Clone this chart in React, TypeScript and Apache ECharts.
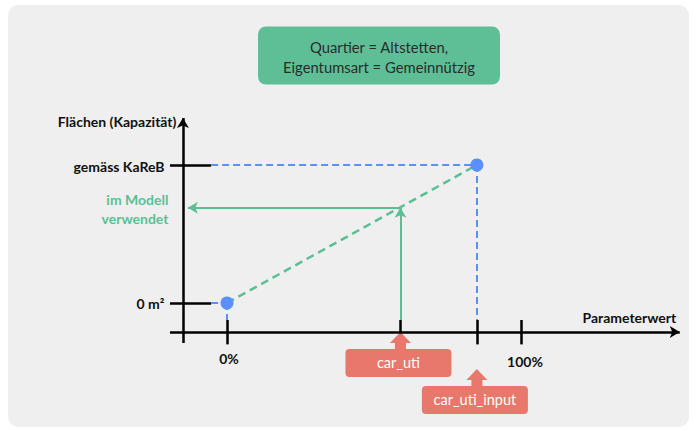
import React, { useEffect, useRef } from "react";
import * as echarts from "echarts";

// ---- data (diagram units: parameter in %, capacity in % of KaReB) ----
const xTickLabels = ["0%", "100%"];
const xTickValues = [0, 100];
const paramNames = ["car_uti", "car_uti_input"];
const paramValues = [59, 85];
const yLevelLabels = ["0 m\u00b2", "gem\u00e4ss KaReB"];
const yLevelValues = [0, 100];
const modelValue = 69;
const modelLabel = "im Modell\nverwendet";
const yAxisTitle = "Fl\u00e4chen (Kapazit\u00e4t)";
const xAxisTitle = "Parameterwert";
const headerLines = ["Quartier = Altstetten,", "Eigentumsart = Gemeinn\u00fctzig"];

// axis frame in diagram units
const X_MIN = -20;
const X_MAX = 155;
const Y_MIN = -30;
const Y_MAX = 135;
const CROSS_X = -15; // where the vertical axis stands
const CROSS_Y = -21; // where the horizontal axis lies
const X_AXIS_START = -19.4;
const X_AXIS_END = 154;
const Y_AXIS_START = -29;
const Y_AXIS_END = 134;
const TICK_TOP = -12.3;
const TICK_BOTTOM = -30;
const Y_TICK_END = -5.4;
const ARROW_LEFT = -13.3;

const BLUE = "#5b8ff9";
const GREEN = "#5cbf94";
const RED = "#e8776c";
const FONT = "Lato";

export default function App() {
  const ref = useRef<HTMLDivElement>(null);
  useEffect(() => {
    if (!ref.current) return;
    const chart = echarts.init(ref.current, undefined, { renderer: "svg" });

    const seg = (
      a: number[],
      b: number[],
      style: any,
      endSymbol: string = "none"
    ) => [
      { coord: a, symbol: "none", lineStyle: style },
      { coord: b, symbol: endSymbol, lineStyle: style },
    ];

    const axisStyle = { color: "#000", width: 2.5, type: "solid" };
    const blueDash = { color: BLUE, width: 2, type: [7, 4] };
    const greenDash = { color: GREEN, width: 2.5, type: [8, 5] };
    const greenSolid = { color: GREEN, width: 2, type: "solid" };

    const lines: any[] = [];
    // axes
    lines.push(seg([X_AXIS_START, CROSS_Y], [X_AXIS_END, CROSS_Y], axisStyle, "arrow"));
    lines.push(seg([CROSS_X, Y_AXIS_START], [CROSS_X, Y_AXIS_END], axisStyle, "arrow"));
    // y ticks
    yLevelValues.forEach((v) => {
      lines.push(seg([X_AXIS_START, v], [Y_TICK_END, v], axisStyle));
    });
    // x ticks
    xTickValues.forEach((v) => {
      lines.push(seg([v, TICK_TOP], [v, TICK_BOTTOM], axisStyle));
    });
    lines.push(seg([paramValues[1], TICK_TOP], [paramValues[1], TICK_BOTTOM], axisStyle));
    lines.push(seg([paramValues[0], TICK_TOP], [paramValues[0], CROSS_Y], axisStyle));
    // blue dashed guides
    lines.push(seg([Y_TICK_END, yLevelValues[0]], [xTickValues[0], yLevelValues[0]], blueDash));
    lines.push(seg([xTickValues[0], yLevelValues[0]], [xTickValues[0], TICK_TOP], blueDash));
    lines.push(seg([Y_TICK_END, yLevelValues[1]], [paramValues[1], yLevelValues[1]], blueDash));
    lines.push(seg([paramValues[1], yLevelValues[1]], [paramValues[1], TICK_TOP], blueDash));
    // green dashed interpolation
    lines.push(seg([xTickValues[0], yLevelValues[0]], [paramValues[1], yLevelValues[1]], greenDash));
    // green solid arrows
    lines.push(seg([paramValues[0], TICK_TOP], [paramValues[0], modelValue], greenSolid, "arrow"));
    lines.push(seg([paramValues[0], modelValue], [ARROW_LEFT, modelValue], greenSolid, "arrow"));

    const txt = { fontFamily: FONT, fontWeight: "bold", fontSize: 14, color: "#111" };
    const label = (value: number[], text: string, extra: any) => ({
      value,
      label: { show: true, formatter: text, ...txt, ...extra },
    });

    const labelData = [
      label([CROSS_X, Y_AXIS_END], yAxisTitle, { position: "left", distance: 6, offset: [0, 3] }),
      label([X_AXIS_START, yLevelValues[1]], yLevelLabels[1], { position: "left", distance: 5, offset: [0, 1] }),
      label([X_AXIS_START, yLevelValues[0]], yLevelLabels[0], { position: "left", distance: 5, offset: [0, 0] }),
      label([X_AXIS_START, modelValue], modelLabel, {
        position: "left",
        distance: 1,
        offset: [0, 1],
        color: GREEN,
        lineHeight: 19,
        align: "right",
      }),
      label([xTickValues[0], TICK_BOTTOM], xTickLabels[0], { position: "bottom", distance: 7, offset: [2, 0] }),
      label([xTickValues[1], TICK_BOTTOM], xTickLabels[1], { position: "bottom", distance: 10, offset: [4, 0] }),
      label([X_AXIS_END, CROSS_Y], xAxisTitle, { position: "left", distance: 3, offset: [0, -14] }),
    ];

    const arrowPath = "path://M10.5,0 L21,11 L16,11 L16,17 L5,17 L5,11 L0,11 Z";
    const paramOffsets = [0, 37];

    const option: any = {
      animation: false,
      grid: { left: 168.2, top: 116.7, width: 514.5, height: 227.7, containLabel: false },
      xAxis: { type: "value", min: X_MIN, max: X_MAX, show: false },
      yAxis: { type: "value", min: Y_MIN, max: Y_MAX, show: false },
      graphic: [
        {
          type: "rect",
          z: -10,
          shape: { x: 8, y: 5, width: 681, height: 422, r: 10 },
          style: { fill: "#efefef" },
        },
        {
          type: "rect",
          z: -5,
          shape: { x: 258, y: 26.5, width: 242, height: 58, r: 8 },
          style: { fill: "#5ebf96" },
        },
        {
          type: "text",
          z: -4,
          x: 379,
          y: 56.5,
          style: {
            text: headerLines.join("\n"),
            fontFamily: FONT,
            fontSize: 14.8,
            lineHeight: 20,
            fill: "#2b2b2b",
            align: "center",
            verticalAlign: "middle",
          },
        },
      ],
      series: [
        {
          type: "scatter",
          name: "guides",
          data: [],
          clip: false,
          silent: true,
          markLine: {
            silent: true,
            symbol: ["none", "none"],
            symbolSize: [9, 10],
            label: { show: false },
            data: lines,
          },
        },
        {
          type: "scatter",
          name: "points",
          z: 5,
          clip: false,
          silent: true,
          symbolSize: 13,
          itemStyle: { color: BLUE, opacity: 1 },
          data: [
            [xTickValues[0], yLevelValues[0]],
            [paramValues[1], yLevelValues[1]],
          ],
        },
        {
          type: "scatter",
          name: "labels",
          clip: false,
          silent: true,
          symbolSize: 1,
          itemStyle: { color: "transparent", opacity: 1 },
          data: labelData,
        },
        {
          type: "scatter",
          name: "paramArrows",
          clip: false,
          silent: true,
          symbol: arrowPath,
          symbolKeepAspect: false,
          itemStyle: { color: RED, opacity: 1 },
          data: paramValues.map((v, i) => ({
            value: [v, CROSS_Y],
            symbolSize: [21, 17],
            symbolOffset: [0, 8.5 + paramOffsets[i]],
          })),
        },
        {
          type: "scatter",
          name: "paramBoxes",
          clip: false,
          silent: true,
          symbolSize: 1,
          itemStyle: { color: "transparent", opacity: 1 },
          data: paramValues.map((v, i) => ({
            value: [v, CROSS_Y],
            label: {
              show: true,
              formatter: paramNames[i],
              position: "inside",
              offset: [-2, 31 + paramOffsets[i]],
              color: "#fff",
              fontFamily: FONT,
              fontSize: 14.5,
              backgroundColor: RED,
              borderRadius: 4,
              width: 106,
              height: 28,
              lineHeight: 28,
              align: "center",
              verticalAlign: "middle",
            },
          })),
        },
      ],
    };
    chart.setOption(option);
    return () => chart.dispose();
  }, []);
  return (
    <div
      ref={ref}
      style={{ position: "fixed", left: 0, top: 0, width: 695, height: 430, background: "#fff" }}
    />
  );
}
